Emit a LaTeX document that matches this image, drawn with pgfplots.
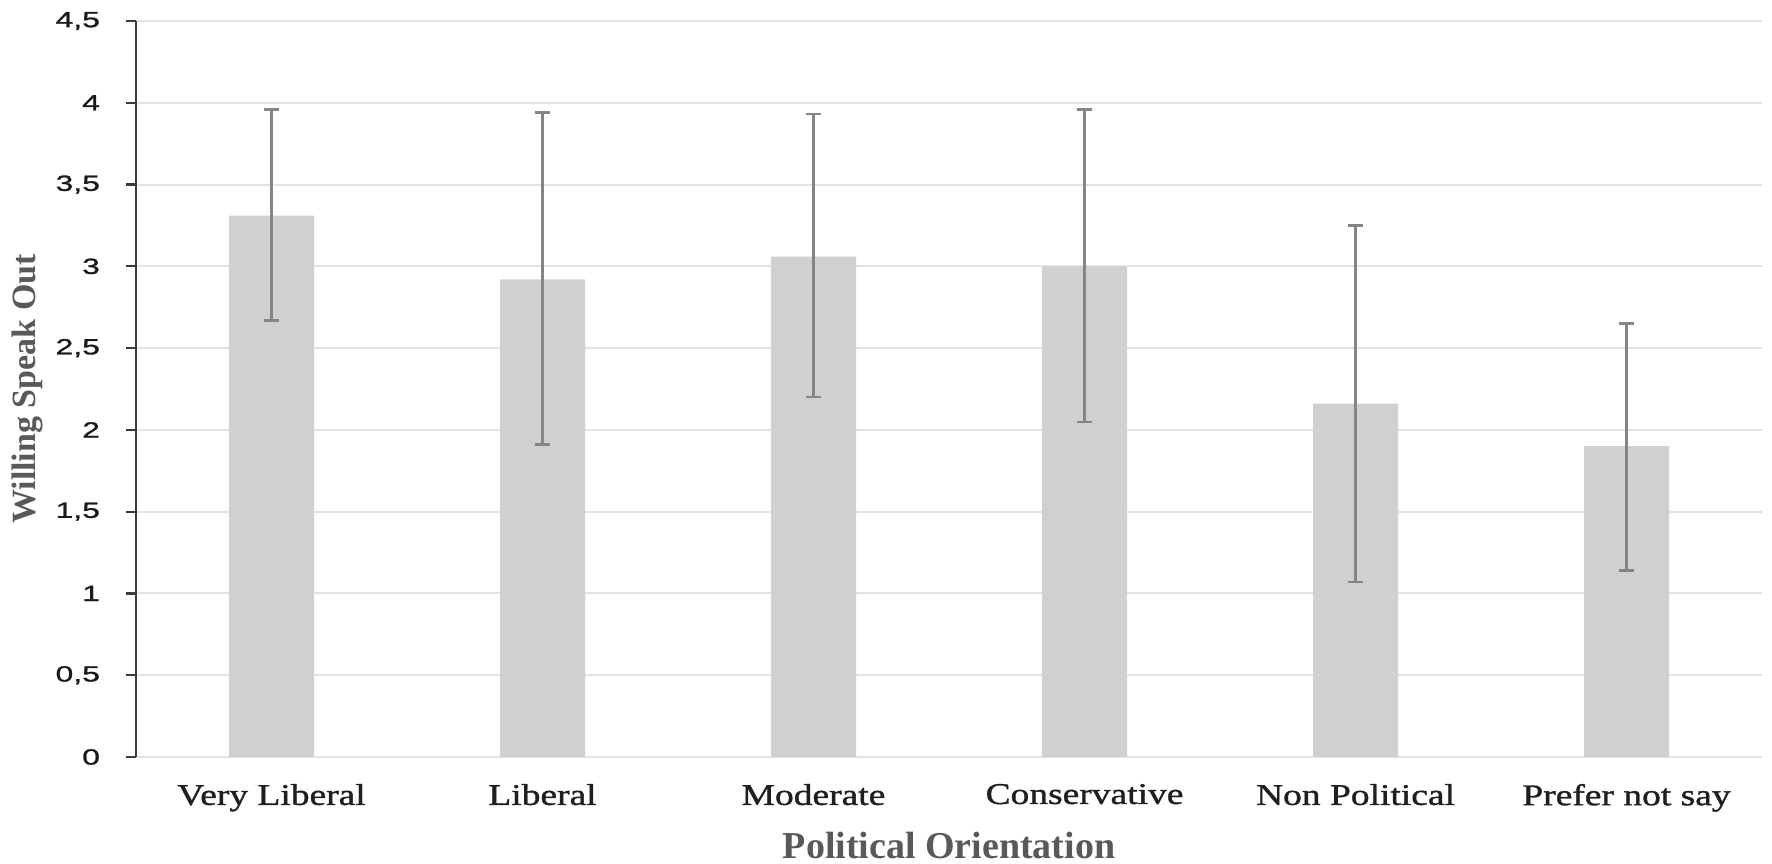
\documentclass[border=0pt]{standalone}
\usepackage{fontspec}
\setmainfont{Liberation Serif}
\newfontfamily\arialw[FakeStretch=1.45,FakeBold=1.2]{Liberation Sans}
\newfontfamily\timesw[FakeStretch=1.25,FakeBold=1.2]{Liberation Serif}
\usepackage{pgfplots}
\usepackage{pgfplotstable}
\pgfplotsset{compat=1.18}
\definecolor{barc}{HTML}{D0D0D0}
\definecolor{gridc}{HTML}{E3E3E3}
\definecolor{errc}{HTML}{858585}
\definecolor{axc}{HTML}{3A3A3A}
\definecolor{labc}{HTML}{595959}
\pgfplotstableread{
x y ep em
0 3.31 0.65 0.64
1 2.92 1.02 1.01
2 3.06 0.87 0.86
3 3.00 0.96 0.95
4 2.16 1.09 1.09
5 1.90 0.75 0.76
}\datatable
\begin{document}
\begin{tikzpicture}
\useasboundingbox (0,0) rectangle (886pt,431.5pt);
\begin{axis}[
  at={(68pt,53pt)}, anchor=south west,
  scale only axis, width=813pt, height=368pt,
  xmin=-0.5, xmax=5.5, ymin=0, ymax=4.5,
  axis lines*=left,
  x axis line style={draw=none},
  y axis line style={draw=axc, line width=1.3pt},
  ytick={0,0.5,...,4.5},
  xtick={0,1,2,3,4,5},
  xticklabels={Very Liberal, Liberal, Moderate, Conservative, Non Political, Prefer not say},
  xtick style={draw=none},
  ytick style={draw=axc, line width=1.1pt},
  tick align=outside, major tick length=5pt,
  ymajorgrids, grid style={draw=gridc, line width=1pt},
  /pgf/number format/assume math mode=true,
  yticklabel style={font=\arialw\fontsize{11}{12}\selectfont, text=black!90, xshift=-9.5pt,
    /pgf/number format/.cd, fixed, precision=1, use comma},
  xticklabel style={font=\timesw\fontsize{15}{17}\selectfont, text=black!88, yshift=-5pt},
  xlabel={Political Orientation},
  ylabel={Willing Speak Out},
  xlabel style={font=\bfseries\fontsize{19}{21}\selectfont, text=labc,
    at={(axis description cs:0.5,0)}, anchor=center, yshift=-44pt},
  ylabel style={font=\bfseries\fontsize{17}{19}\selectfont, text=labc,
    at={(axis description cs:-0.067,0.5)}, anchor=center},
  clip=false,
]
\addplot[ybar, bar width=42.5pt, fill=barc, draw=none,
  error bars/.cd, y dir=both, y explicit,
  error bar style={draw=errc, line width=1.2pt},
  error mark options={rotate=90, mark size=3.75pt, draw=errc, line width=1.2pt}]
  table[x=x, y=y, y error plus=ep, y error minus=em] {\datatable};
\end{axis}
\end{tikzpicture}
\end{document}
